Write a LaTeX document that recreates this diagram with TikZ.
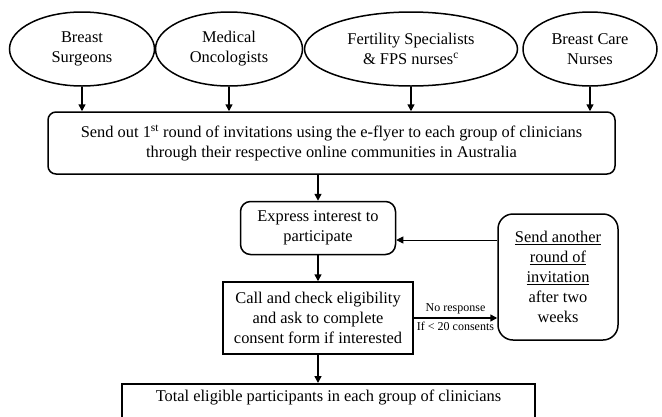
\documentclass[tikz,border=0pt]{standalone}
\usepackage{fontspec}
\setmainfont{Liberation Serif}
\usetikzlibrary{shapes.geometric, arrows.meta}

\tikzset{
  group/.style={draw, line width=1.5pt, ellipse, inner sep=0pt, align=center, minimum height=74pt},
  roundbox/.style={draw, line width=1.5pt, rounded corners=8pt, align=center},
  plainbox/.style={draw, line width=1.5pt, align=center},
  flow/.style={-{Triangle[length=7pt,width=7pt]}, line width=1.5pt},
  thinflow/.style={-{Triangle[length=7pt,width=7pt]}, line width=0.9pt},
}

\begin{document}
\begin{tikzpicture}[x=1pt, y=-1pt, font=\fontsize{16.4}{20}\selectfont]
\useasboundingbox (0,0) rectangle (662,416);

\node[group, minimum width=145pt] (surg) at (82,49) {Breast\\Surgeons};
\node[group, minimum width=147pt] (onco) at (229,49) {Medical\\Oncologists};
\node[group, minimum width=213pt] (fert) at (411,49) {Fertility Specialists\\\& FPS nurses\textsuperscript{c}};
\node[group, minimum width=134pt] (nurse) at (590,49) {Breast Care\\Nurses};

\node[roundbox, minimum width=567pt, minimum height=62pt] (invite) at (331.5,143)
  {Send out 1\textsuperscript{st} round of invitations using the e-flyer to each group of clinicians\\through their respective online communities in Australia};

\node[roundbox, rounded corners=10pt, minimum width=155pt, minimum height=53pt] (interest) at (318,228)
  {Express interest to\\participate};

\node[plainbox, minimum width=190pt, minimum height=72pt] (eligible) at (318,318)
  {Call and check eligibility\\and ask to complete\\consent form if interested};

\node[roundbox, rounded corners=15pt, minimum width=120pt, minimum height=126pt] (again) at (558,277)
  {\underline{Send another}\\\underline{round of}\\\underline{invitation}\\after two\\weeks};

\node[plainbox, anchor=north, minimum width=413pt, inner ysep=6pt, text depth=25pt] (total) at (328.5,383)
  {Total eligible participants in each group of clinicians};

\foreach \g in {surg, onco, fert, nurse}
  \draw[flow] (\g.south) -- (\g.south |- invite.north);

\draw[flow] (invite.south -| interest.north) -- (interest.north);
\draw[thinflow] ([yshift=-12pt]interest.east -| again.west) -- ([yshift=-12pt]interest.east);
\draw[flow] (interest.south) -- (interest.south |- eligible.north);
\draw[flow] (eligible.east) -- (eligible.east -| again.west)
  node[midway, above, font=\fontsize{12}{14}\selectfont] {No response}
  node[midway, below, font=\fontsize{12}{14}\selectfont] {If < 20 consents};
\draw[flow] (eligible.south) -- (eligible.south |- total.north);
\end{tikzpicture}
\end{document}
